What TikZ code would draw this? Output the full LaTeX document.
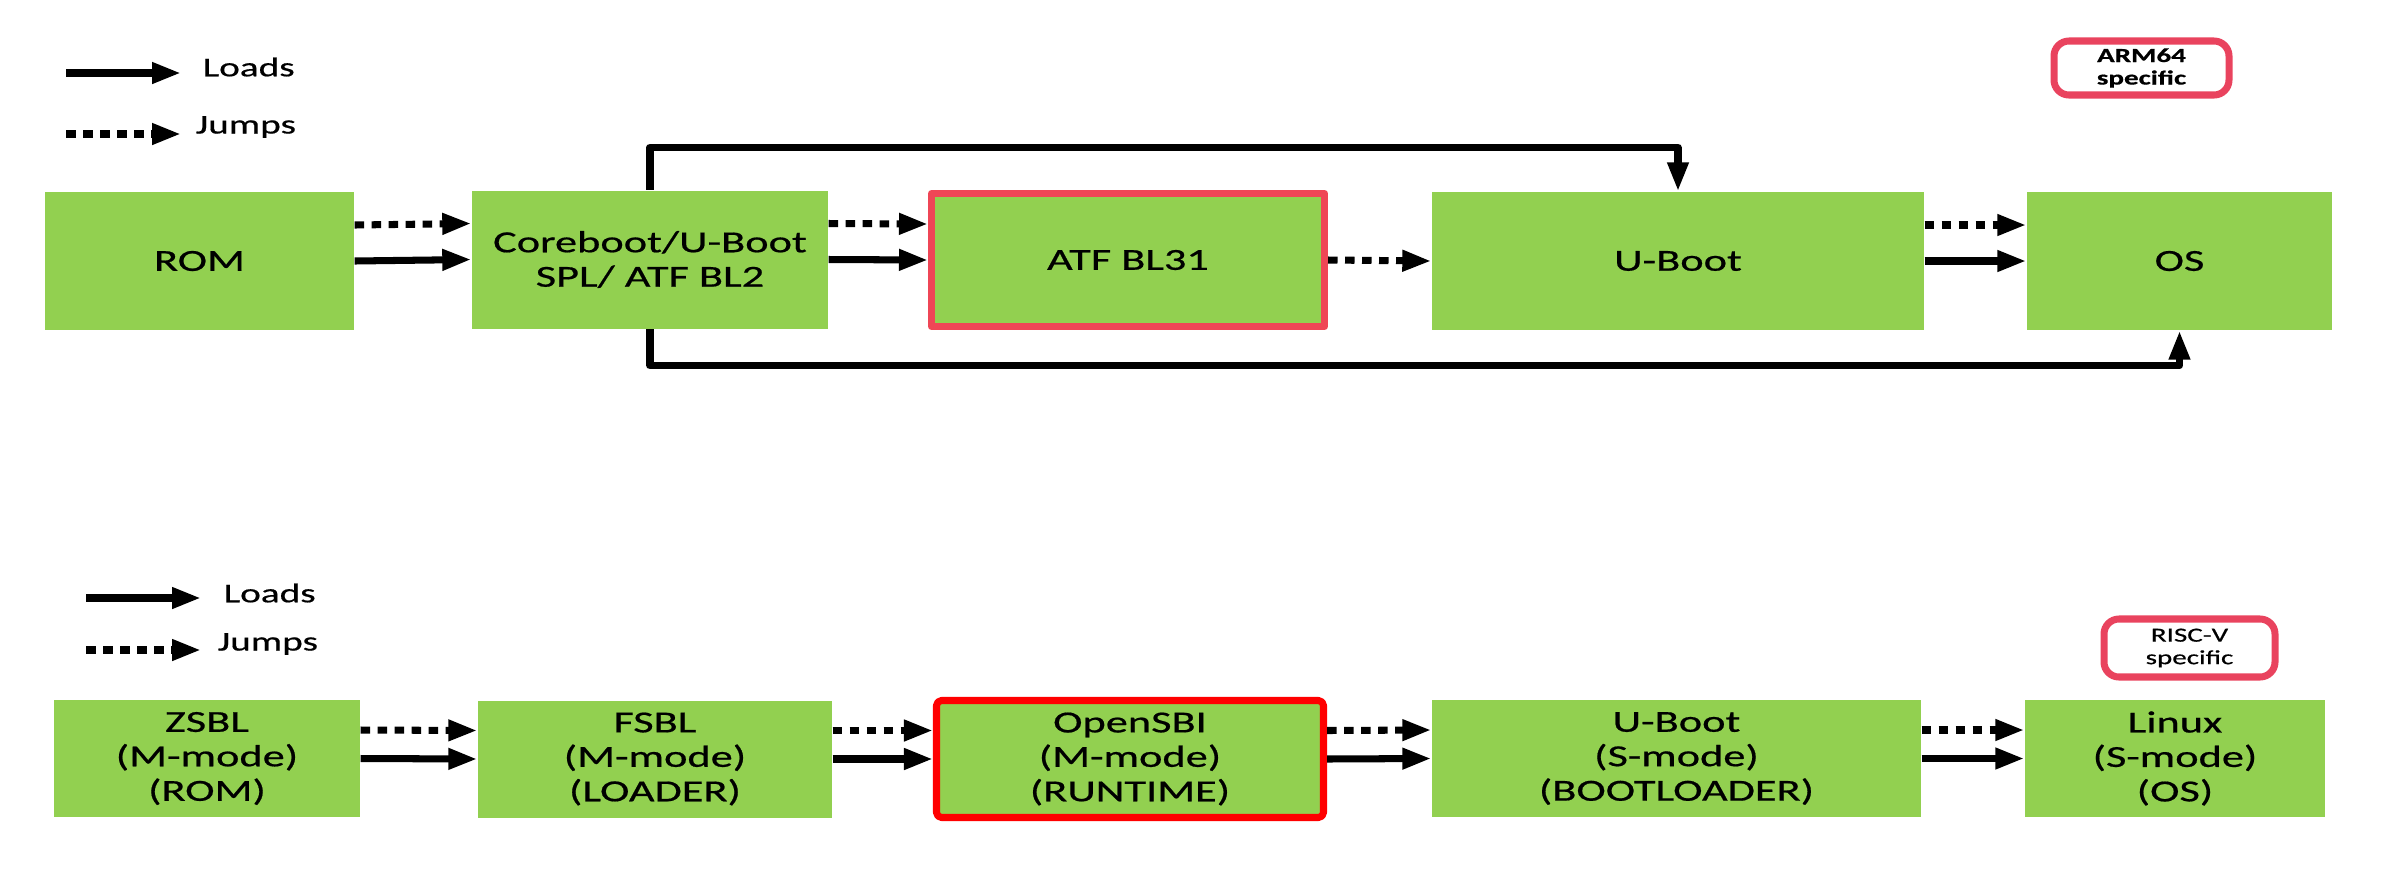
\documentclass[tikz,border=0pt]{standalone}
\usepackage{fontspec}
\setmainfont[FakeStretch=1.45, FakeBold=0.6]{Carlito}
\usetikzlibrary{arrows.meta}
\definecolor{boxgreen}{HTML}{92D050}
\definecolor{atfred}{HTML}{EF4656}
\definecolor{tagred}{HTML}{E9435E}
\begin{document}
\begin{tikzpicture}[line join=round, >={Triangle[length=2.9mm,width=2.0mm]},
	blk/.style={fill=boxgreen, inner sep=0pt, minimum height=1.38cm, align=center, font=\fontsize{8.7}{9.8}\selectfont},
	loads/.style={line width=2pt, ->},
	jumps/.style={line width=2pt, ->, dash pattern=on 0.95mm off 0.75mm},
	legtxt/.style={anchor=west, inner sep=0pt, font=\fontsize{7.7}{9}\selectfont},
	tag/.style={draw=tagred, line width=2pt, rounded corners=1.5mm, align=center, inner sep=0pt, font=\fontsize{5.7}{6.4}\selectfont}]
	\useasboundingbox (0,0) rectangle (23.89,-8.71);
	% ARM64 legend
	\coordinate (la0) at (0.66,-0.73); \coordinate (la1) at (1.81,-0.73);
	\coordinate (ja0) at (0.66,-1.34); \coordinate (ja1) at (1.81,-1.34);
	\node[legtxt] (tload) at (2.02,-0.67) {Loads};
	\node[legtxt] (tjump) at (1.95,-1.27) {Jumps};
	\draw[loads] (la0) -- (la1);
	\draw[jumps] (ja0) -- (ja1);
	\node[tag, minimum width=1.75cm, minimum height=0.54cm] (armtag) at (21.415,-0.68) {\bfseries ARM64\\\bfseries specific};
	% ARM64 boot flow
	\node[blk, minimum width=3.09cm] (rom) at (1.995,-2.61) {ROM};
	\node[blk, minimum width=3.56cm] (cb) at (6.50,-2.595) {Coreboot/U-Boot\\SPL/ ATF BL2};
	\node[blk, minimum width=3.93cm, minimum height=1.33cm, draw=atfred, line width=2pt] (atf) at (11.28,-2.60) {ATF BL31};
	\node[blk, minimum width=4.92cm] (uboot) at (16.78,-2.61) {U-Boot};
	\node[blk, minimum width=3.05cm] (os) at (21.795,-2.61) {OS};
	\foreach \a/\b in {rom/cb, cb/atf, uboot/os} {
		\draw[jumps] ([yshift=3.6mm]\a.east) -- ([yshift=3.6mm]\b.west);
		\draw[loads] (\a.east) -- (\b.west);
	}
	\draw[jumps] (atf.east) -- (uboot.west);
	\draw[loads] (cb.north) -- ++(0,0.425) -| (uboot.north);
	\draw[loads] (cb.south) -- ++(0,-0.365) -| (os.south);
	% RISC-V legend
	\coordinate (lb0) at (0.86,-5.98); \coordinate (lb1) at (2.01,-5.98);
	\coordinate (jb0) at (0.86,-6.50); \coordinate (jb1) at (2.01,-6.50);
	\node[legtxt] (bload) at (2.23,-5.93) {Loads};
	\node[legtxt] (bjump) at (2.17,-6.44) {Jumps};
	\draw[loads] (lb0) -- (lb1);
	\draw[jumps] (jb0) -- (jb1);
	\node[tag, minimum width=1.71cm, minimum height=0.58cm] (rvtag) at (21.895,-6.48) {RISC-V\\specific};
	% RISC-V boot flow
	\node[blk, minimum width=3.06cm, minimum height=1.17cm] (zsbl) at (2.07,-7.585) {ZSBL\\(M-mode)\\(ROM)};
	\node[blk, minimum width=3.54cm, minimum height=1.17cm] (fsbl) at (6.55,-7.59) {FSBL\\(M-mode)\\(LOADER)};
	\node[blk, minimum width=3.87cm, minimum height=1.17cm, draw=red, line width=2pt, rounded corners=0.5mm] (sbi) at (11.30,-7.59) {OpenSBI\\(M-mode)\\(RUNTIME)};
	\node[blk, minimum width=4.89cm, minimum height=1.17cm] (ubootv) at (16.765,-7.585) {U-Boot\\(S-mode)\\(BOOTLOADER)};
	\node[blk, minimum width=3.00cm, minimum height=1.17cm] (linux) at (21.75,-7.585) {Linux\\(S-mode)\\(OS)};
	\foreach \a/\b in {zsbl/fsbl, fsbl/sbi, sbi/ubootv, ubootv/linux} {
		\draw[jumps] ([yshift=2.85mm]\a.east) -- ([yshift=2.85mm]\b.west);
		\draw[loads] (\a.east) -- (\b.west);
	}
\end{tikzpicture}
\end{document}
